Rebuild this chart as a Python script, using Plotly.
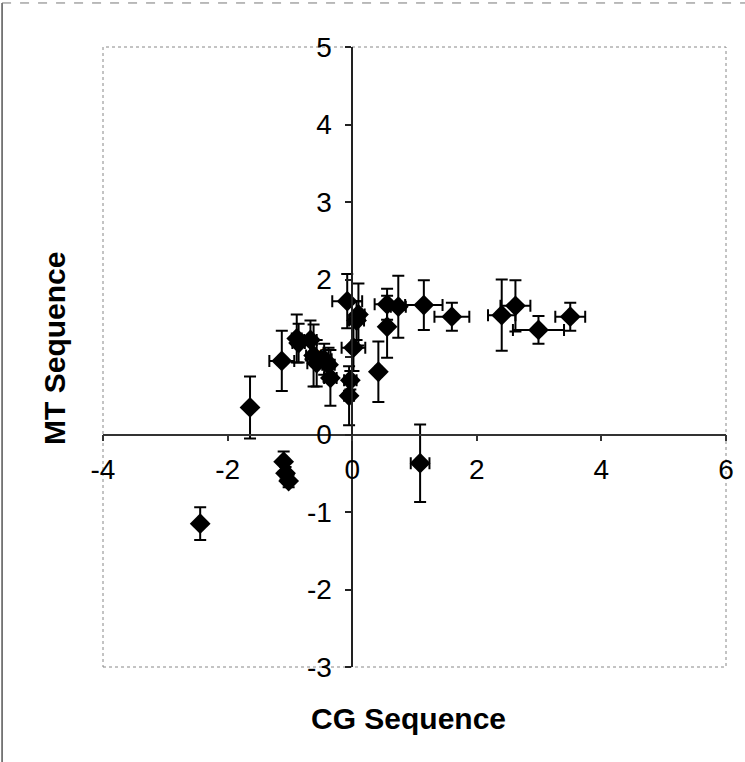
import plotly.graph_objects as go

# CG vs MT sequence scores with their uncertainties
cg = [-2.44, -1.64, -1.10, -1.07, -1.02, -1.13, -0.89, -0.86, -0.67, -0.62,
      -0.57, -0.45, -0.35, -0.38, -0.08, 0.10, 0.07, 0.02, -0.03, -0.05,
      0.42, 0.56, 0.56, 0.74, 1.15, 1.60, 1.09, 2.40, 2.62, 2.99, 3.50]
mt = [-1.15, 0.35, -0.35, -0.50, -0.60, 0.95, 1.24, 1.18, 1.22, 1.02,
      0.92, 0.97, 0.73, 0.90, 1.72, 1.55, 1.47, 1.12, 0.70, 0.50,
      0.81, 1.39, 1.68, 1.65, 1.67, 1.52, -0.37, 1.54, 1.66, 1.35, 1.52]
cg_err = [0.00, 0.00, 0.05, 0.05, 0.05, 0.20, 0.08, 0.10, 0.10, 0.12,
          0.15, 0.12, 0.10, 0.10, 0.24, 0.10, 0.12, 0.19, 0.10, 0.08,
          0.05, 0.05, 0.20, 0.12, 0.30, 0.28, 0.15, 0.22, 0.24, 0.41, 0.24]
mt_err = [0.21, 0.40, 0.13, 0.08, 0.08, 0.39, 0.31, 0.25, 0.25, 0.40,
          0.30, 0.20, 0.36, 0.22, 0.35, 0.40, 0.25, 0.30, 0.12, 0.38,
          0.39, 0.40, 0.20, 0.40, 0.32, 0.18, 0.50, 0.46, 0.33, 0.18, 0.18]

x_ticks = [-4, -2, 0, 2, 4, 6]
y_ticks = [-3, -2, -1, 0, 1, 2, 3, 4, 5]
x_title = "CG Sequence"
y_title = "MT Sequence"
x_range = [-4, 6]
y_range = [-3, 5]

fig = go.Figure()
fig.add_trace(go.Scatter(
    x=cg, y=mt, mode="markers",
    marker=dict(symbol="diamond", size=16, color="black"),
    error_x=dict(type="data", array=cg_err, color="black", thickness=2, width=6),
    error_y=dict(type="data", array=mt_err, color="black", thickness=2, width=6),
    showlegend=False,
))

# axes cross at the origin
x0_frac = (0 - x_range[0]) / (x_range[1] - x_range[0])
y0_frac = (0 - y_range[0]) / (y_range[1] - y_range[0])

tick_font = dict(family="Liberation Sans, Arial, sans-serif", size=28, color="black")
fig.update_xaxes(
    range=x_range, tickvals=x_ticks, ticktext=[str(v) for v in x_ticks],
    anchor="free", position=y0_frac,
    showline=True, linecolor="#333", linewidth=1.5,
    ticks="outside", ticklen=6, tickcolor="#333", tickwidth=1.5,
    showgrid=False, zeroline=False, tickfont=tick_font, ticklabelstandoff=4,
)
fig.update_yaxes(
    range=y_range, tickvals=y_ticks, ticktext=[str(v) for v in y_ticks],
    anchor="free", position=x0_frac,
    showline=True, linecolor="#222", linewidth=1.5,
    ticks="outside", ticklen=6, tickcolor="#222", tickwidth=1.5,
    showgrid=False, zeroline=False, tickfont=tick_font, ticklabelstandoff=8,
)

title_font = dict(family="Liberation Sans, Arial, sans-serif", size=30, color="black")
fig.add_annotation(text="<b>%s</b>" % x_title, xref="paper", yref="paper",
                   x=0.491, y=-0.083, showarrow=False, font=title_font,
                   xanchor="center", yanchor="middle")
fig.add_annotation(text="<b>%s</b>" % y_title, xref="paper", yref="paper",
                   x=-0.077, y=0.513, showarrow=False, font=title_font,
                   textangle=-90, xanchor="center", yanchor="middle")

# dotted plot-area border and the outer frame edges
fig.add_shape(type="rect", xref="paper", yref="paper", x0=0, x1=1, y0=0, y1=1,
              line=dict(color="#888", width=1, dash="dot"), layer="below")
fig.add_shape(type="line", xref="paper", yref="paper", x0=-0.162, x1=-0.162,
              y0=-0.155, y1=1.071, line=dict(color="#555", width=1.5))
fig.add_shape(type="line", xref="paper", yref="paper", x0=-0.162, x1=1.04,
              y0=1.071, y1=1.071, line=dict(color="#777", width=1, dash="dash"))

fig.update_layout(
    width=745, height=762,
    margin=dict(l=103, r=19, t=47, b=95),
    plot_bgcolor="white", paper_bgcolor="white",
)

fig.write_html("out.html")
